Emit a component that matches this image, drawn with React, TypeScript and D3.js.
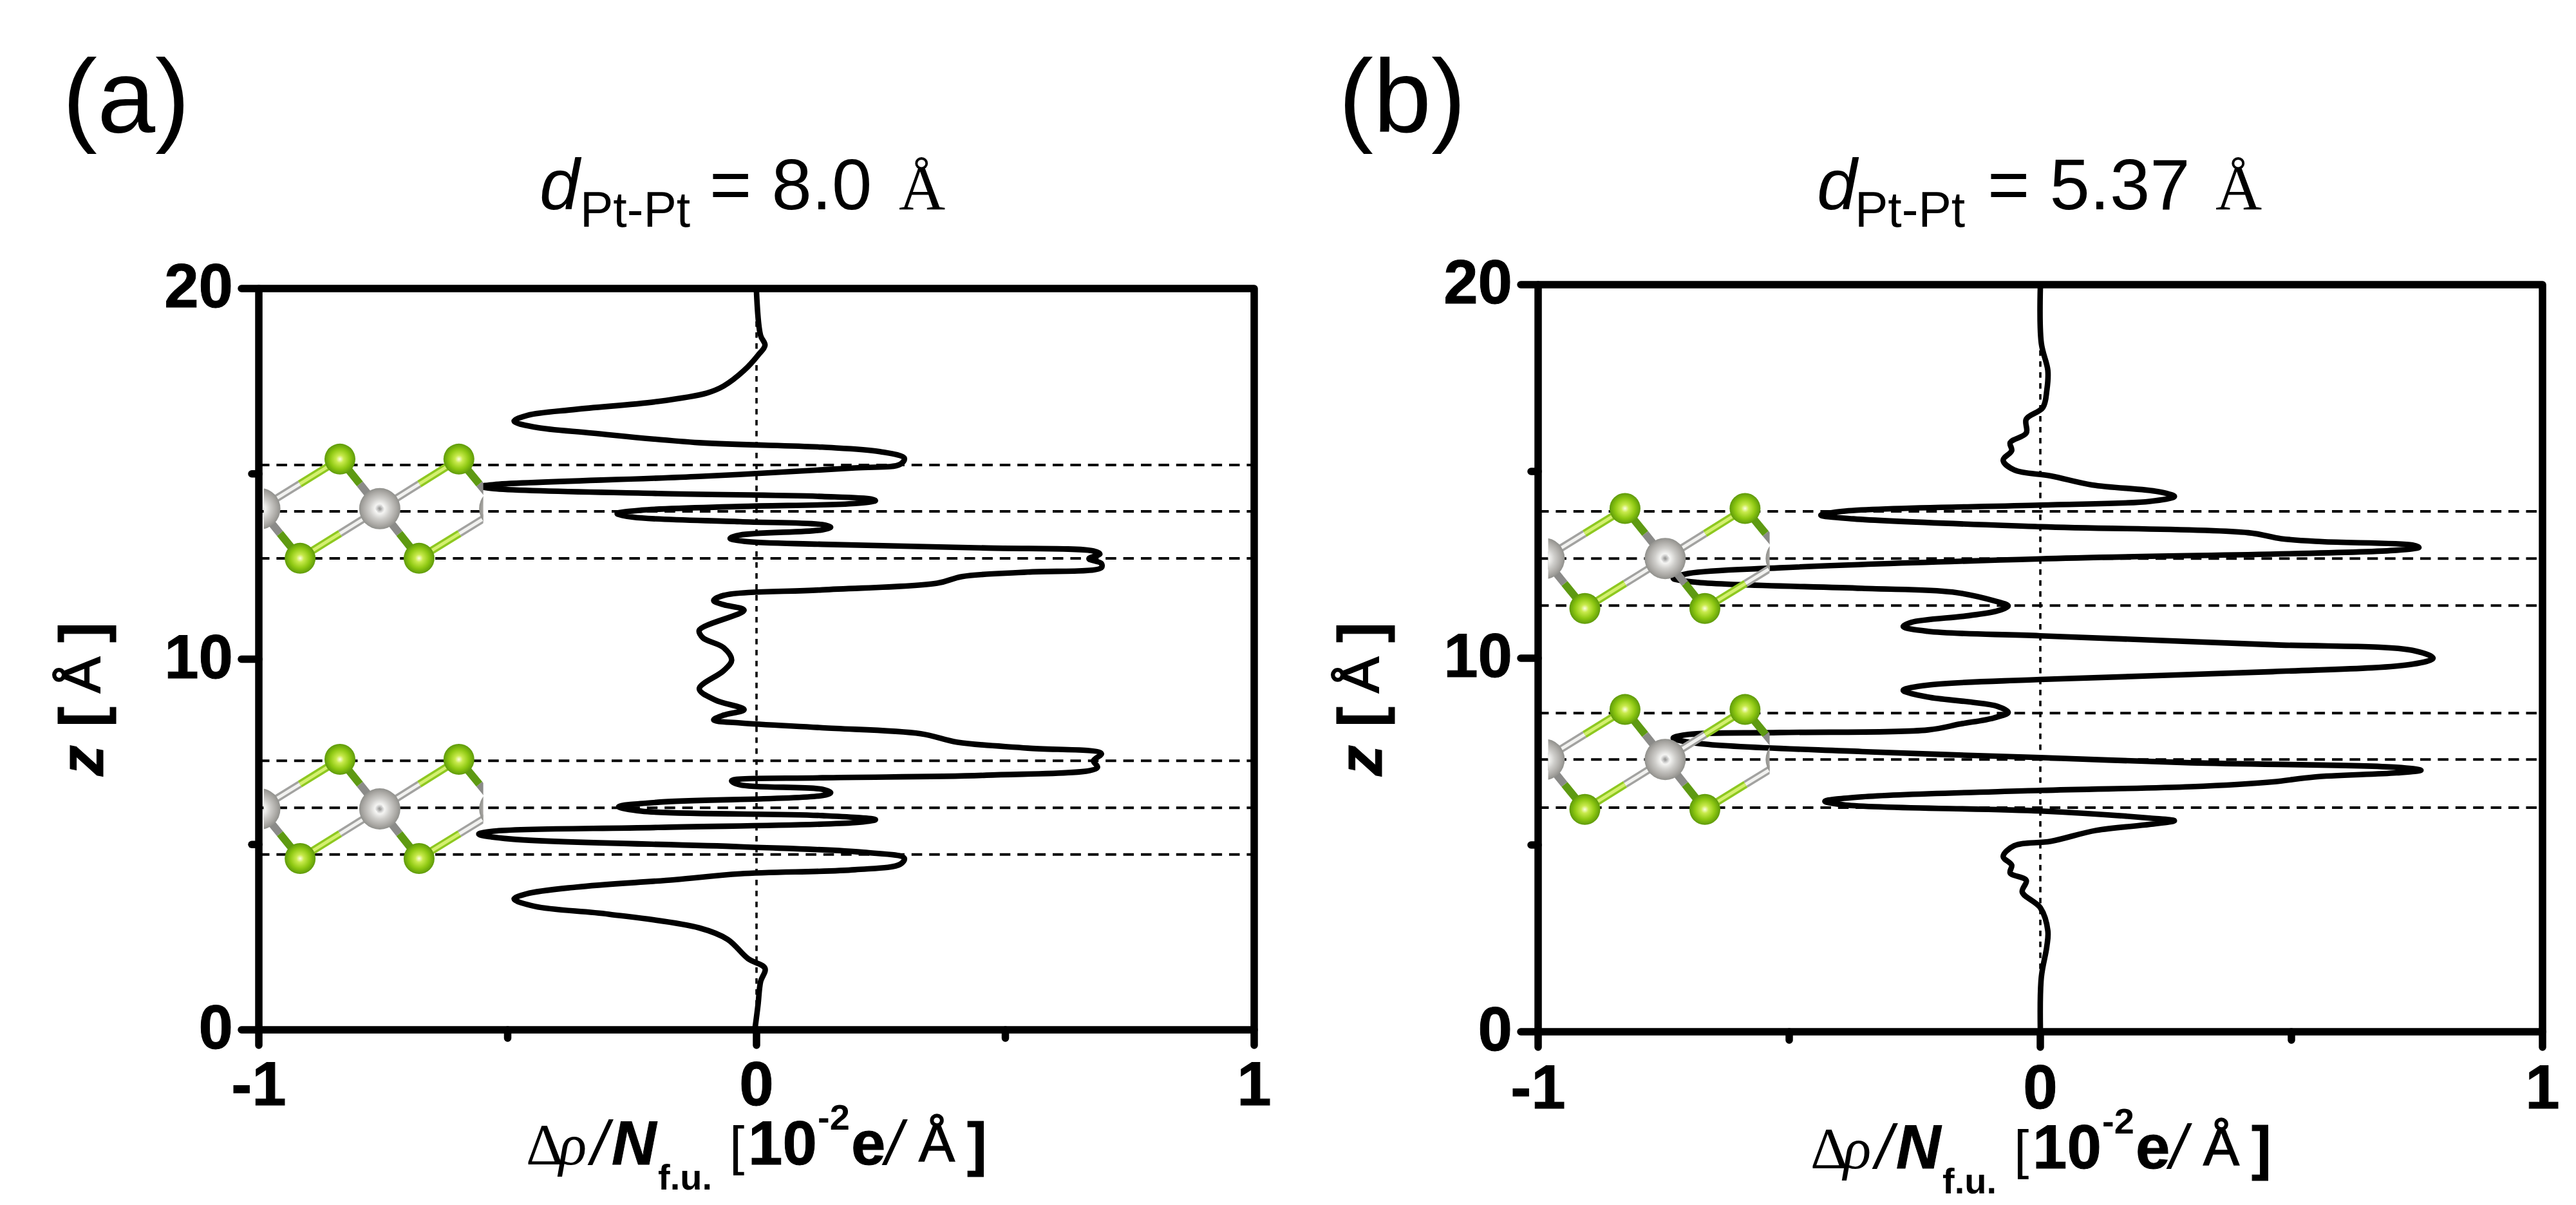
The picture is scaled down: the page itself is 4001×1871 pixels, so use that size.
import React from "react";
import * as d3 from "d3";

const xTicksMajor = [-1, 0, 1];
const xTicksMinor = [-0.5, 0.5];
const zTicksMajor = [0, 10, 20];
const zTicksMinor = [5, 15];

const curveAZ = [19.9,18.74,18.47,18.2,17.79,17.37,17.18,16.95,16.74,16.58,16.42,16.26,16.1,15.84,15.72,15.6,15.42,15.26,15.16,14.93,14.71,14.66,14.6,14.47,14.39,14.32,14.28,14.2,14.12,14.02,13.93,13.83,13.71,13.63,13.56,13.49,13.35,13.26,13.18,13.1,13.0,12.92,12.84,12.71,12.58,12.47,12.35,12.23,12.05,11.87,11.72,11.58,11.47,11.32,10.78,10.58,10.31,9.97,9.69,9.2,8.9,8.64,8.49,8.36,8.28,8.15,7.99,7.76,7.6,7.45,7.26,7.08,6.87,6.8,6.72,6.61,6.49,6.4,6.32,6.14,6.02,5.9,5.78,5.67,5.59,5.46,5.36,5.28,5.15,4.94,4.79,4.63,4.47,4.32,4.21,4.05,3.85,3.67,3.53,3.33,3.12,2.75,2.44,1.92,1.66,1.29,0.67,0.04];
const curveAX = [0,0.008,0.017,0.003,-0.025,-0.066,-0.1,-0.2,-0.363,-0.46,-0.487,-0.445,-0.33,-0.115,0.132,0.248,0.297,0.289,0.198,-0.115,-0.528,-0.553,-0.528,-0.198,0.132,0.231,0.239,0.198,-0.033,-0.231,-0.28,-0.248,-0.033,0.132,0.149,0.132,-0.033,-0.053,-0.025,0.132,0.462,0.677,0.69,0.668,0.693,0.693,0.545,0.413,0.363,0.132,-0.066,-0.086,-0.066,-0.025,-0.115,-0.108,-0.066,-0.05,-0.066,-0.115,-0.083,-0.025,-0.066,-0.086,-0.033,0.132,0.33,0.404,0.545,0.693,0.677,0.685,0.462,0.132,-0.05,-0.033,0.132,0.149,0.132,-0.198,-0.277,-0.231,0.132,0.239,0.198,-0.198,-0.528,-0.558,-0.495,-0.033,0.215,0.297,0.289,0.198,-0.033,-0.165,-0.363,-0.462,-0.487,-0.445,-0.297,-0.115,-0.058,-0.017,0.017,0.008,0.003,-0.003];

const curveBZ = [19.92,18.43,17.7,17.18,16.71,16.4,16.03,15.77,15.56,15.3,15.04,14.88,14.64,14.46,14.33,14.2,14.1,13.94,13.83,13.73,13.52,13.36,13.2,13.12,13.03,12.97,12.89,12.66,12.42,12.27,12.14,12.03,11.87,11.77,11.54,11.4,11.27,11.14,10.96,10.85,10.72,10.6,10.36,10.21,10,9.84,9.64,9.43,9.28,9.14,8.96,8.83,8.71,8.55,8.4,8.24,8.08,8.01,7.96,7.86,7.72,7.5,7.34,7.2,7.08,7.0,6.93,6.82,6.69,6.56,6.46,6.29,6.17,6.07,5.91,5.72,5.65,5.55,5.39,5.1,4.98,4.69,4.46,4.25,4.05,3.74,3.32,2.7,2.29,1.46,0.11];
const curveBX = [0,0.002,0.015,0.013,0.005,-0.028,-0.028,-0.06,-0.057,-0.074,-0.052,0.021,0.103,0.234,0.267,0.218,0,-0.388,-0.437,-0.372,0,0.414,0.48,0.561,0.741,0.754,0.709,0,-0.519,-0.7,-0.731,-0.682,-0.355,-0.175,-0.093,-0.064,-0.085,-0.142,-0.257,-0.273,-0.224,0,0.463,0.741,0.782,0.741,0.463,0,-0.224,-0.273,-0.224,-0.142,-0.085,-0.064,-0.093,-0.159,-0.224,-0.519,-0.7,-0.731,-0.682,-0.355,0,0.3,0.709,0.758,0.709,0.545,0.463,0.3,0,-0.355,-0.429,-0.388,0,0.218,0.267,0.218,0.111,0.021,-0.052,-0.074,-0.057,-0.06,-0.028,-0.036,0,0.015,0.013,0.002,0];

const dashedZA = [15.24, 13.99, 12.72, 7.26, 5.99, 4.73];
const dashedZB = [13.93, 12.67, 11.41, 8.53, 7.29, 6.0];
const layerZA = [14.06, 5.96];
const layerZB = [12.67, 7.29];

// one PtCl2 motif, in axis units relative to a Pt atom
const ptOffsetsX = [0, -0.241, 0.241];
const clOffsetsX = [-0.08, 0.159, -0.16, 0.079];
const clOffsetsZ = [1.338, 1.338, -1.338, -1.338];
const lightBonds = [[0, 1], [0, 2], [1, 0], [2, 3]];
const darkBonds = [[0, 0], [0, 3], [1, 2], [2, 1]];

const SANS = "'Liberation Sans', Arial, sans-serif";
const SERIF = "'Liberation Serif', 'Times New Roman', serif";

function Molecule({ x, y, ptX, layerZ, id }: any) {
  const px = (dv: number) => x(ptX + dv);
  return (
    <g>
      <clipPath id={`clip-${id}`}>
        <rect x={px(-0.233)} y={0} width={px(0.208) - px(-0.233)} height={1871} />
      </clipPath>
      {layerZ.map((lz: number, li: number) => {
        const pts = ptOffsetsX.map((o) => [px(o), y(lz)]);
        const cls = clOffsetsX.map((o, i) => [px(o), y(lz + clOffsetsZ[i])]);
        const tube = (a: number[], b: number[], light: boolean, key: string) => {
          const m = [(a[0] + b[0]) / 2, (a[1] + b[1]) / 2];
          return (
            <g key={key}>
              <line x1={a[0]} y1={a[1]} x2={m[0]} y2={m[1]} stroke={light ? "#a2a2a0" : "#8b8b89"} strokeWidth={12} />
              <line x1={m[0]} y1={m[1]} x2={b[0]} y2={b[1]} stroke={light ? "#8ec820" : "#5e9a12"} strokeWidth={12} />
              {light && <line x1={a[0]} y1={a[1]} x2={m[0]} y2={m[1]} stroke="#f2f2f0" strokeWidth={5} />}
              {light && <line x1={m[0]} y1={m[1]} x2={b[0]} y2={b[1]} stroke="#d4f070" strokeWidth={5} />}
            </g>
          );
        };
        return (
          <g key={li} clipPath={`url(#clip-${id})`}>
            {lightBonds.map(([p, c], i) => tube(pts[p], cls[c], true, `l${i}`))}
            {darkBonds.map(([p, c], i) => tube(pts[p], cls[c], false, `d${i}`))}
            {pts.map((p, i) => (
              <circle key={i} cx={p[0]} cy={p[1]} r={32} fill="url(#ptGrad)" />
            ))}
            {cls.map((p, i) => (
              <circle key={i} cx={p[0]} cy={p[1]} r={24} fill="url(#clGrad)" />
            ))}
          </g>
        );
      })}
    </g>
  );
}

function Panel({ cfg }: any) {
  const x = d3.scaleLinear().domain([-1, 1]).range(cfg.xRange);
  const y = d3.scaleLinear().domain([0, 20]).range(cfg.yRange);
  const line = d3
    .line<number>()
    .x((d) => x(d))
    .y((_, i) => y(cfg.z[i]))
    .curve(d3.curveCatmullRom.alpha(0.5));
  const [x0, x1] = cfg.xRange;
  const [y0, y1] = cfg.yRange;
  const sw = 11.5;
  const bold = { stroke: "#000", strokeWidth: 1 };
  return (
    <g>
      {cfg.dashed.map((z: number) => (
        <line key={z} x1={x0} x2={x1} y1={y(z)} y2={y(z)} stroke="#000" strokeWidth={4} strokeDasharray="16.5 10.9" />
      ))}
      <line x1={x(0)} x2={x(0)} y1={y1} y2={y0} stroke="#000" strokeWidth={3.6} strokeDasharray="8.5 8.5" />
      <path d={line(cfg.x) as string} fill="none" stroke="#000" strokeWidth={8.6} strokeLinejoin="round" strokeLinecap="round" />
      <Molecule x={x} y={y} ptX={cfg.ptX} layerZ={cfg.layers} id={cfg.id} />
      <rect x={x0} y={y1} width={x1 - x0} height={y0 - y1} fill="none" stroke="#000" strokeWidth={sw} strokeLinejoin="round" />
      {zTicksMajor.map((t) => (
        <line key={t} x1={x0 - 27} x2={x0} y1={y(t)} y2={y(t)} stroke="#000" strokeWidth={sw} strokeLinecap="round" />
      ))}
      {zTicksMinor.map((t) => (
        <line key={t} x1={x0 - 11} x2={x0} y1={y(t)} y2={y(t)} stroke="#000" strokeWidth={sw} strokeLinecap="round" />
      ))}
      {xTicksMajor.map((t) => (
        <line key={t} x1={x(t)} x2={x(t)} y1={y0} y2={y0 + 24} stroke="#000" strokeWidth={sw} strokeLinecap="round" />
      ))}
      {xTicksMinor.map((t) => (
        <line key={t} x1={x(t)} x2={x(t)} y1={y0} y2={y0 + 13} stroke="#000" strokeWidth={sw} strokeLinecap="round" />
      ))}
      {zTicksMajor.map((t) => (
        <text key={t} x={x0 - 40} y={y(t) + 29} textAnchor="end" fontFamily={SANS} fontWeight="bold" fontSize={96} {...bold}>
          {t}
        </text>
      ))}
      {xTicksMajor.map((t) => (
        <text key={t} x={x(t)} y={y0 + cfg.xTickDy} textAnchor="middle" fontFamily={SANS} fontWeight="bold" fontSize={96} {...bold}>
          {t}
        </text>
      ))}

      {/* panel letter */}
      <text x={cfg.letterX} y={205} fontFamily={SANS} fontSize={162}>{cfg.letter}</text>

      {/* title */}
      <text x={cfg.titleX[0]} y={325} fontFamily={SANS} fontStyle="italic" fontSize={112}>d</text>
      <text x={cfg.titleX[1]} y={352} fontFamily={SANS} fontSize={77}>Pt-Pt</text>
      <text x={cfg.titleX[2]} y={325} fontFamily={SANS} fontSize={112} xmlSpace="preserve">{cfg.title}</text>
      <text x={cfg.titleX[3]} y={325} fontFamily={SERIF} fontSize={100}>Å</text>

      {/* z axis title */}
      <g transform={`translate(${cfg.yLabelDx},0)`} fontFamily={SANS} fontSize={96} fontWeight="bold">
        <text transform="translate(160,1205) rotate(-90)" fontStyle="italic" {...bold}>z</text>
        <text transform="translate(160,1129) rotate(-90)" {...bold}>[</text>
        <text transform="translate(155,1076) rotate(-90)" fontWeight="normal" fontSize={84} stroke="#000" strokeWidth={2}>Å</text>
        <text transform="translate(160,998) rotate(-90)" {...bold}>]</text>
      </g>

      {/* x axis title */}
      <g transform={`translate(${cfg.xLabelDx},${cfg.xLabelDy})`} fontFamily={SANS}>
        <text x={817} y={1808} fontFamily={SERIF} fontSize={90}>Δ</text>
        <text x={868} y={1808} fontFamily={SERIF} fontStyle="italic" fontSize={90}>ρ</text>
        <text x={918} y={1808} fontStyle="italic" fontSize={96}>/</text>
        <text x={950} y={1808} fontStyle="italic" fontWeight="bold" fontSize={96} {...bold}>N</text>
        <text x={1022} y={1847} fontWeight="bold" fontSize={56}>f.u.</text>
        <text x={1133} y={1808} fontSize={84}>[</text>
        <text x={1162} y={1808} fontWeight="bold" fontSize={96} {...bold}>10</text>
        <text x={1270} y={1754} fontWeight="bold" fontSize={56}>-2</text>
        <text x={1322} y={1808} fontWeight="bold" fontSize={96} {...bold}>e</text>
        <text x={1375} y={1808} fontStyle="italic" fontSize={96}>/</text>
        <text x={1427} y={1803} fontSize={84} stroke="#000" strokeWidth={1.5}>Å</text>
        <text x={1502} y={1808} fontWeight="bold" fontSize={92} {...bold}>]</text>
      </g>
    </g>
  );
}

const panels = [
  {
    id: "a", letter: "(a)", letterX: 97, xRange: [402, 1948], yRange: [1599, 448], z: curveAZ, x: curveAX,
    dashed: dashedZA, layers: layerZA, ptX: -0.757, xTickDy: 117,
    title: "= 8.0", titleX: [838, 901, 1102, 1396], yLabelDx: 0, xLabelDx: 0, xLabelDy: 0,
  },
  {
    id: "b", letter: "(b)", letterX: 2079, xRange: [2389, 3949], yRange: [1602, 442], z: curveBZ, x: curveBX,
    dashed: dashedZB, layers: layerZB, ptX: -0.747, xTickDy: 119,
    title: "= 5.37", titleX: [2822, 2881, 3087, 3441], yLabelDx: 1986, xLabelDx: 1995, xLabelDy: 6,
  },
];

export default function App() {
  return (
    <svg width={4001} height={1871} viewBox="0 0 4001 1871" style={{ position: "absolute", left: 0, top: 0, display: "block", background: "#fff" }}>
      <defs>
        <radialGradient id="ptGrad">
          <stop offset="0%" stopColor="#ffffff" stopOpacity={0} />
          <stop offset="14%" stopColor="#ffffff" stopOpacity={0.6} />
          <stop offset="24%" stopColor="#f4f4f2" />
          <stop offset="50%" stopColor="#cfcecb" />
          <stop offset="82%" stopColor="#aaa8a4" />
          <stop offset="100%" stopColor="#90908c" />
        </radialGradient>
        <radialGradient id="clGrad">
          <stop offset="0%" stopColor="#fdfee0" />
          <stop offset="25%" stopColor="#c8ea4c" />
          <stop offset="65%" stopColor="#8ec812" />
          <stop offset="100%" stopColor="#5e9a0a" />
        </radialGradient>
      </defs>
      {panels.map((p) => (
        <Panel key={p.id} cfg={p} />
      ))}
    </svg>
  );
}
